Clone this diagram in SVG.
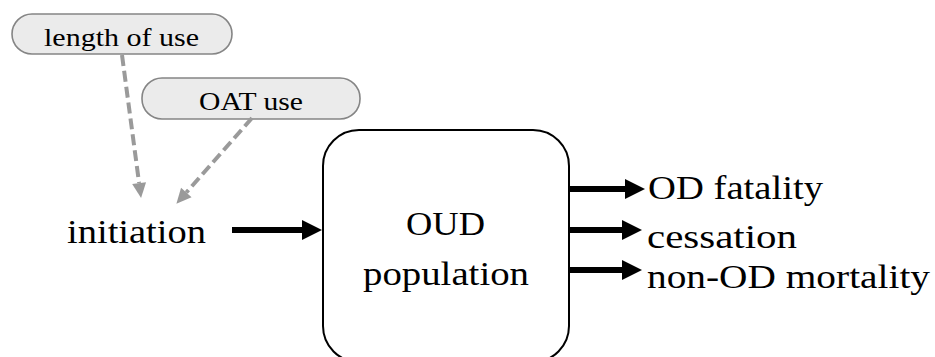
<svg xmlns="http://www.w3.org/2000/svg" width="935" height="357" viewBox="0 0 935 357">
<style>
text{font-family:'Liberation Serif','DejaVu Serif',serif;fill:#000}
.pill{fill:#ebebeb;stroke:#858585;stroke-width:1.6}
.big{font-size:34px}
.small{font-size:26px}
.dash{stroke:#9a9a9a;stroke-width:4;stroke-dasharray:11 5;fill:none}
.solid{stroke:#000;stroke-width:6;fill:none}
</style>
<defs>
<marker id="ga" markerUnits="userSpaceOnUse" markerWidth="16" markerHeight="14" refX="0" refY="7" orient="auto" overflow="visible"><path d="M0,0 L15,7 L0,14 z" fill="#9a9a9a"/></marker>
<marker id="ba" markerUnits="userSpaceOnUse" markerWidth="20" markerHeight="20" refX="0" refY="10" orient="auto" overflow="visible"><path d="M0,0 L20,10 L0,20 z" fill="#000"/></marker>
</defs>
<g id="length-of-use">
<rect class="pill" x="12" y="14" width="220" height="40" rx="20"/>
<text class="small" x="44" y="46" textLength="155" lengthAdjust="spacingAndGlyphs">length of use</text>
</g>
<g id="oat-use">
<rect class="pill" x="142" y="78" width="218" height="41" rx="20"/>
<text class="small" x="199" y="110" textLength="104" lengthAdjust="spacingAndGlyphs">OAT use</text>
</g>
<g id="initiation">
<text class="big" x="67" y="243" textLength="139" lengthAdjust="spacingAndGlyphs">initiation</text>
</g>
<g id="oud-population">
<rect x="323" y="130" width="246" height="232" rx="36" fill="#fff" stroke="#000" stroke-width="2"/>
<text class="big" x="406" y="235" textLength="79" lengthAdjust="spacingAndGlyphs">OUD</text>
<text class="big" x="363" y="285" textLength="166" lengthAdjust="spacingAndGlyphs">population</text>
</g>
<g id="od-fatality"><text class="big" x="648" y="199" textLength="175" lengthAdjust="spacingAndGlyphs">OD fatality</text></g>
<g id="cessation"><text class="big" x="647" y="248" textLength="150" lengthAdjust="spacingAndGlyphs">cessation</text></g>
<g id="non-od-mortality"><text class="big" x="647" y="288" textLength="283" lengthAdjust="spacingAndGlyphs">non-OD mortality</text></g>
<g id="connectors">
<line class="dash" x1="122" y1="55" x2="139.1" y2="183.1" marker-end="url(#ga)"/>
<line class="dash" x1="252" y1="118" x2="186.3" y2="192.5" marker-end="url(#ga)"/>
<line class="solid" x1="232" y1="230" x2="302" y2="230" marker-end="url(#ba)"/>
<line class="solid" x1="569" y1="189" x2="625" y2="189" marker-end="url(#ba)"/>
<line class="solid" x1="569" y1="230" x2="622" y2="230" marker-end="url(#ba)"/>
<line class="solid" x1="569" y1="270" x2="622" y2="270" marker-end="url(#ba)"/>
</g>
</svg>
